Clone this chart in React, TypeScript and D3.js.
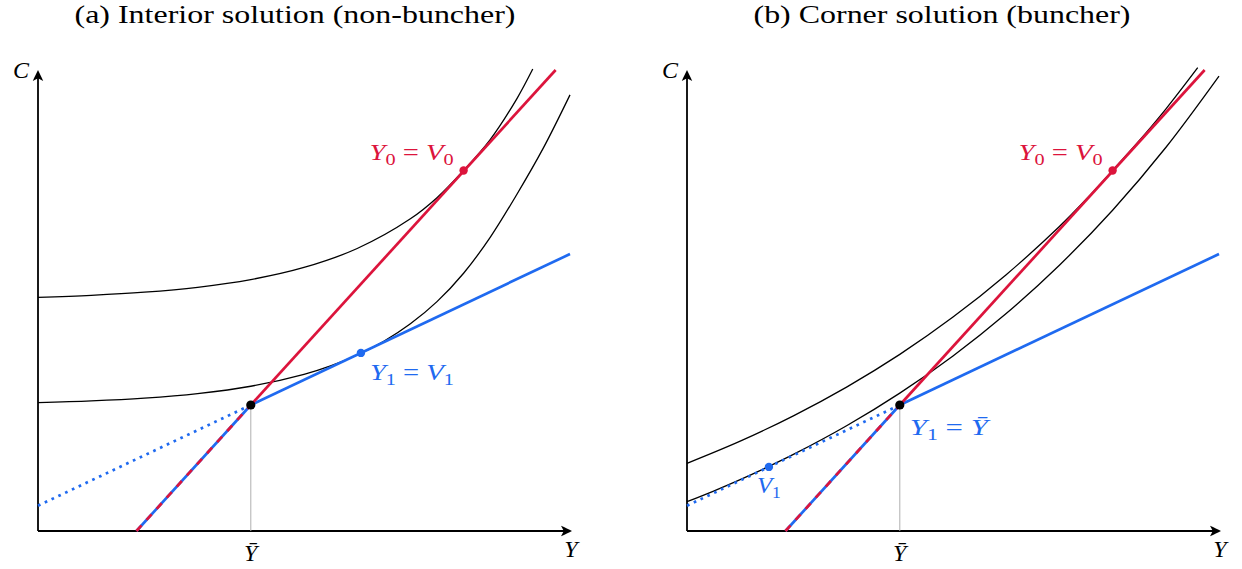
import React from "react";
import * as d3 from "d3";

type Pt = [number, number];

// ---- data (axis units: Y horizontal 0..10, C vertical 0..10) ----
const Y_BAR = 4.0;
const C_BAR = 2.733;

// Y0 budget line (red): lower part coincides with the kinked blue budget
const redLower: Pt[] = [[1.851, 0], [4.0, 2.733]];
const redUpper: Pt[] = [[4.0, 2.733], [9.73, 10.0]];
// Y1 budget line (blue) beyond the kink and its dotted extension
const blueUpper: Pt[] = [[4.0, 2.733], [10.0, 6.008]];
const blueDotted: Pt[] = [[0, 0.549], [4.0, 2.733]];

// indifference curves, panel (a)
const aUpper: Pt[] = [[0, 5.069], [1, 5.113], [2, 5.18], [3, 5.286], [4, 5.453], [5, 5.716], [6, 6.128], [7, 6.772], [7.5, 7.23], [8, 7.82], [8.5, 8.49], [9, 9.375], [9.3, 10.02]];
const aLower: Pt[] = [[0, 2.783], [1, 2.821], [2, 2.882], [3, 2.981], [4, 3.14], [5, 3.399], [5.5, 3.583], [6, 3.818], [6.5, 4.115], [7, 4.495], [7.5, 4.976], [8, 5.592], [8.5, 6.37], [9, 7.3], [9.5, 8.31], [10, 9.46]];
// indifference curves, panel (b)
const bUpper: Pt[] = [[0, 1.469], [1, 1.95], [2, 2.499], [3, 3.122], [4, 3.831], [5, 4.64], [6, 5.56], [7, 6.605], [7.5, 7.19], [8, 7.82], [8.5, 8.465], [9, 9.152], [9.6, 10.05]];
const bLower: Pt[] = [[0, 0.636], [0.5, 0.867], [1, 1.115], [1.5, 1.38], [2, 1.661], [3, 2.283], [4, 2.991], [5, 3.798], [6, 4.718], [7, 5.766], [8, 6.959], [9, 8.319], [10, 9.868]];

const V0: Pt = [8.0, 7.82];
const aV1: Pt = [6.07, 3.863];
const bV1: Pt = [1.54, 1.39];
const KINK: Pt = [Y_BAR, C_BAR];

const titles = ["(a) Interior solution (non-buncher)", "(b) Corner solution (buncher)"];

// ---- styles ----
const RED = "#DC143C";
const BLUE = "#1F6AF0";
const SERIF = "'Liberation Serif', 'Times New Roman', Times, 'DejaVu Serif', serif";

const PANEL_W = 532;
const Y0PX = 531;
const YTOP = 70;
const SUB_DY = 5;

function Arrow({ x, y, angle }: { x: number; y: number; angle: number }) {
  return (
    <path
      d="M0,0 C-3,-1.5 -7,-3.5 -11,-5.2 L-8.2,0 L-11,5.2 C-7,3.5 -3,1.5 0,0 Z"
      transform={`translate(${x},${y}) rotate(${angle})`}
      fill="#000"
    />
  );
}

// label "A_a = B_b" (b optional); main letters italic, subscripts upright
function EqLabel({ x, y, a, aSub, b, bSub, anchor = "start", len, color }: any) {
  return (
    <text
      x={x}
      y={y}
      textAnchor={anchor}
      fill={color}
      style={{ fontFamily: SERIF }}
      fontSize={24}
      textLength={len}
      lengthAdjust="spacingAndGlyphs"
    >
      <tspan fontStyle="italic">{a}</tspan>
      <tspan dy={SUB_DY} fontSize={17}>{aSub}</tspan>
      {b !== undefined && <tspan dy={-SUB_DY}>{" = "}</tspan>}
      {b !== undefined && <tspan fontStyle="italic">{b}</tspan>}
      {bSub !== undefined && <tspan dy={SUB_DY} fontSize={17}>{bSub}</tspan>}
    </text>
  );
}

function Panel({ ox, which }: { ox: number; which: number }) {
  const x = d3.scaleLinear().domain([0, 10]).range([ox, ox + PANEL_W]);
  const y = d3.scaleLinear().domain([0, 10]).range([Y0PX, YTOP]);
  const straight = d3.line<Pt>().x((d) => x(d[0])).y((d) => y(d[1]));
  const smooth = d3.line<Pt>().x((d) => x(d[0])).y((d) => y(d[1])).curve(d3.curveCatmullRom.alpha(0.5));
  const upper = which === 0 ? aUpper : bUpper;
  const lower = which === 0 ? aLower : bLower;
  const v1 = which === 0 ? aV1 : bV1;
  const x0 = x(0);
  const ital = { fontFamily: SERIF, fontStyle: "italic" } as const;
  return (
    <g>
      {/* axes */}
      <line x1={x0} y1={Y0PX} x2={x0} y2={YTOP + 4} stroke="#000" strokeWidth={1.8} />
      <Arrow x={x0} y={YTOP} angle={-90} />
      <line x1={x0} y1={Y0PX} x2={x(10) - 1} y2={Y0PX} stroke="#000" strokeWidth={1.8} />
      <Arrow x={x(10) + 2} y={Y0PX} angle={0} />
      <text x={x0 - 9} y={78} textAnchor="end" style={ital} fontSize={24}>C</text>
      <text x={x(10) + 1} y={557} textAnchor="middle" style={ital} fontSize={24}>Y</text>
      <text x={x(Y_BAR)} y={561} textAnchor="middle" style={ital} fontSize={24}>{"Ȳ"}</text>
      {/* Ybar guide */}
      <line x1={x(Y_BAR)} y1={Y0PX} x2={x(Y_BAR)} y2={y(C_BAR)} stroke="#b0b0b0" strokeWidth={1} />
      {/* indifference curves */}
      <path d={smooth(upper) || ""} fill="none" stroke="#000" strokeWidth={1.3} />
      <path d={smooth(lower) || ""} fill="none" stroke="#000" strokeWidth={1.3} />
      {/* budget lines */}
      <path d={straight(blueDotted) || ""} fill="none" stroke={BLUE} strokeWidth={2.7} strokeDasharray="2.7 4.8" />
      <path d={straight(blueUpper) || ""} fill="none" stroke={BLUE} strokeWidth={2.7} />
      <path d={straight(redLower) || ""} fill="none" stroke={BLUE} strokeWidth={2.7} />
      <path d={straight(redLower) || ""} fill="none" stroke={RED} strokeWidth={2.7} strokeDasharray="7.5 7.5" />
      <path d={straight(redUpper) || ""} fill="none" stroke={RED} strokeWidth={2.7} />
      {/* points */}
      <circle cx={x(V0[0])} cy={y(V0[1])} r={4.2} fill={RED} />
      <circle cx={x(v1[0])} cy={y(v1[1])} r={4.2} fill={BLUE} />
      <circle cx={x(KINK[0])} cy={y(KINK[1])} r={4.6} fill="#000" />
      {/* labels */}
      <EqLabel x={x(V0[0]) - 10} y={y(V0[1]) - 10} anchor="end" len={84} color={RED} a="Y" aSub="0" b="V" bSub="0" />
      {which === 0 ? (
        <EqLabel x={x(v1[0]) + 9} y={y(v1[1]) + 27} len={84} color={BLUE} a="Y" aSub="1" b="V" bSub="1" />
      ) : (
        <>
          <EqLabel x={x(KINK[0]) + 10} y={y(KINK[1]) + 30} len={78} color={BLUE} a="Y" aSub="1" b="Ȳ" />
          <EqLabel x={x(v1[0])} y={y(v1[1]) + 26} anchor="middle" len={24} color={BLUE} a="V" aSub="1" />
        </>
      )}
    </g>
  );
}

export default function App() {
  return (
    <svg width={1242} height={569} style={{ display: "block", position: "absolute", left: 0, top: 0, background: "#fff" }}>
      <rect width={1242} height={569} fill="#fff" />
      <text x={295} y={23} textAnchor="middle" style={{ fontFamily: SERIF }} fontSize={25} textLength={441} lengthAdjust="spacingAndGlyphs">{titles[0]}</text>
      <text x={942} y={23} textAnchor="middle" style={{ fontFamily: SERIF }} fontSize={25} textLength={377} lengthAdjust="spacingAndGlyphs">{titles[1]}</text>
      <Panel ox={38} which={0} />
      <Panel ox={687} which={1} />
    </svg>
  );
}
